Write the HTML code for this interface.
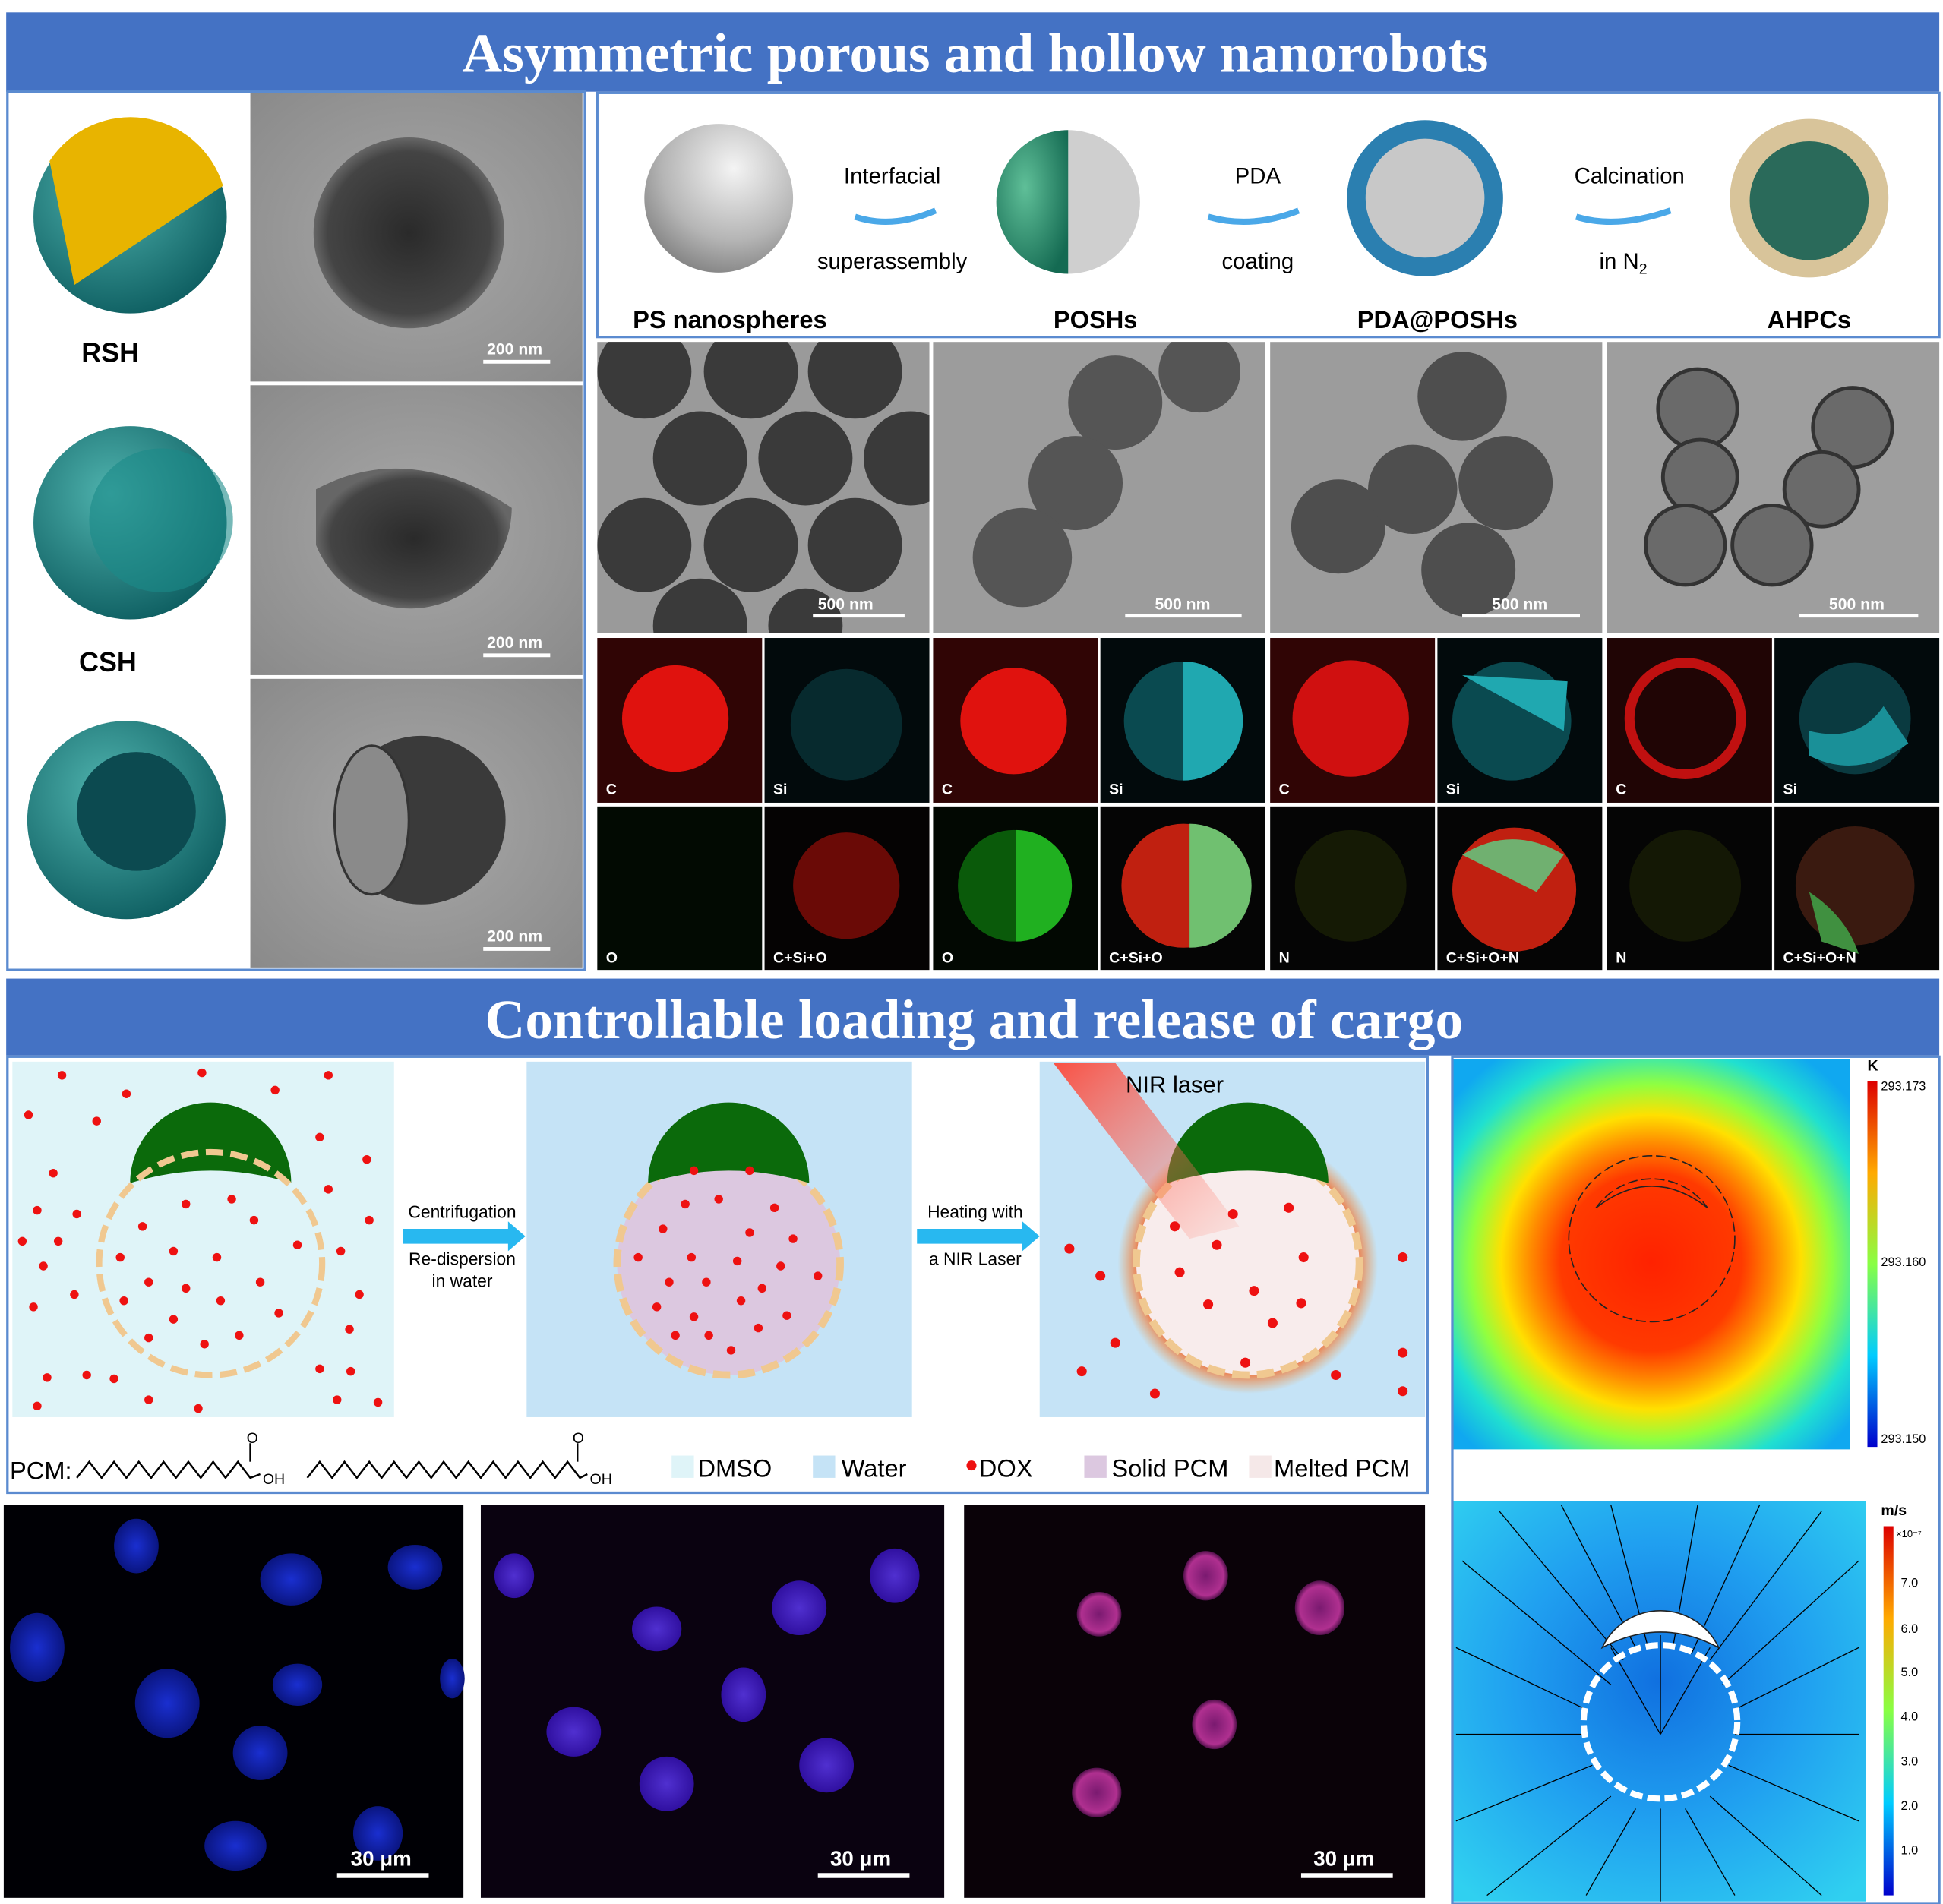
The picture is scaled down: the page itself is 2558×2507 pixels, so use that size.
<!DOCTYPE html>
<html><head><meta charset="utf-8"><style>
html,body{margin:0;padding:0;background:#fff;}
svg{display:block;}
</style></head><body>
<svg width="2558" height="2507" viewBox="0 0 1568 1537" preserveAspectRatio="none" xmlns="http://www.w3.org/2000/svg" font-family="Liberation Sans, sans-serif">
<defs>
<clipPath id="c1"><rect x="482" y="276" width="268" height="235"/></clipPath>
<clipPath id="c2"><rect x="753" y="276" width="1000" height="235"/></clipPath>
<radialGradient id="ps" cx="0.6" cy="0.3" r="0.8"><stop offset="0" stop-color="#f4f4f4"/><stop offset="0.6" stop-color="#b5b5b5"/><stop offset="1" stop-color="#777"/></radialGradient>
<radialGradient id="grn" cx="0.4" cy="0.4" r="0.7"><stop offset="0" stop-color="#5fbf98"/><stop offset="1" stop-color="#146a52"/></radialGradient>
<radialGradient id="teal" cx="0.4" cy="0.35" r="0.7"><stop offset="0" stop-color="#4fb3ae"/><stop offset="1" stop-color="#0d5d60"/></radialGradient>
<radialGradient id="tem" cx="0.5" cy="0.5" r="0.7"><stop offset="0" stop-color="#a8a8a8"/><stop offset="1" stop-color="#8a8a8a"/></radialGradient>
<radialGradient id="dark" cx="0.5" cy="0.5" r="0.5"><stop offset="0" stop-color="#2a2a2a"/><stop offset="0.85" stop-color="#444"/><stop offset="1" stop-color="#666"/></radialGradient>
<radialGradient id="heat" cx="0.5" cy="0.52" r="0.65"><stop offset="0" stop-color="#ff2200"/><stop offset="0.35" stop-color="#ff3a00"/><stop offset="0.47" stop-color="#ff8c00"/><stop offset="0.58" stop-color="#ffe000"/><stop offset="0.7" stop-color="#90ff40"/><stop offset="0.85" stop-color="#20e0d0"/><stop offset="1" stop-color="#10a8f0"/></radialGradient>
<linearGradient id="cbar" x1="0" y1="0" x2="0" y2="1"><stop offset="0" stop-color="#d00"/><stop offset="0.25" stop-color="#fa0"/><stop offset="0.5" stop-color="#8f4"/><stop offset="0.75" stop-color="#0cf"/><stop offset="1" stop-color="#00c"/></linearGradient>
<radialGradient id="flow" cx="0.5" cy="0.45" r="0.7"><stop offset="0" stop-color="#1070e0"/><stop offset="0.5" stop-color="#20a0f0"/><stop offset="1" stop-color="#30d0f0"/></radialGradient>
<radialGradient id="glow" cx="0.5" cy="0.5" r="0.5"><stop offset="0.8" stop-color="#ff4000" stop-opacity="0.9"/><stop offset="1" stop-color="#ff8000" stop-opacity="0"/></radialGradient>
<linearGradient id="laser" x1="0" y1="0" x2="1" y2="1"><stop offset="0" stop-color="#ff4030" stop-opacity="0.9"/><stop offset="1" stop-color="#ff8070" stop-opacity="0.1"/></linearGradient>
<radialGradient id="nuc" cx="0.5" cy="0.5" r="0.5"><stop offset="0" stop-color="#1a2fd0"/><stop offset="1" stop-color="#0a1580"/></radialGradient>
<radialGradient id="nucp" cx="0.5" cy="0.5" r="0.5"><stop offset="0" stop-color="#5030d0"/><stop offset="1" stop-color="#3010a0"/></radialGradient>
<radialGradient id="nucm" cx="0.5" cy="0.5" r="0.5"><stop offset="0" stop-color="#7a1a70"/><stop offset="0.8" stop-color="#b03090"/><stop offset="1" stop-color="#50104a"/></radialGradient>
</defs>
<rect width="1568" height="1537" fill="#fff"/>
<!-- Banner 1 -->
<rect x="5" y="10" width="1560" height="64" fill="#4472C4"/>
<text x="787" y="58" text-anchor="middle" font-family="Liberation Serif, serif" font-weight="bold" font-size="45" fill="#fff">Asymmetric porous and hollow nanorobots</text>
<!-- Left panel -->
<rect x="6" y="74" width="466" height="709" fill="#fff" stroke="#5b8bd0" stroke-width="2"/>
<g>
<circle cx="105" cy="175" r="78" fill="url(#teal)"/><path d="M40 130 A78 78 0 0 1 180 150 L60 230 Z" fill="#e8b400"/>
<text x="89" y="292" text-anchor="middle" font-weight="bold" font-size="22">RSH</text>
<circle cx="105" cy="422" r="78" fill="url(#teal)"/><circle cx="130" cy="420" r="58" fill="#1a8a88" opacity="0.6"/>
<text x="87" y="542" text-anchor="middle" font-weight="bold" font-size="22">CSH</text>
<circle cx="102" cy="662" r="80" fill="url(#teal)"/><circle cx="110" cy="655" r="48" fill="#0c4a50"/>
</g>
<rect x="202" y="75" width="268" height="233" fill="url(#tem)"/>
<circle cx="330" cy="188" r="77" fill="url(#dark)"/>
<rect x="202" y="311" width="268" height="234" fill="url(#tem)"/>
<path d="M255 395 Q330 355 413 410 A82 82 0 0 1 255 440 Z" fill="url(#dark)"/>
<rect x="202" y="548" width="268" height="233" fill="url(#tem)"/>
<circle cx="340" cy="662" r="68" fill="#3a3a3a"/><ellipse cx="300" cy="662" rx="30" ry="60" fill="#8a8a8a" stroke="#333" stroke-width="2"/>
<g fill="#fff" font-size="13" font-weight="bold"><text x="393" y="286">200 nm</text><text x="393" y="523">200 nm</text><text x="393" y="760">200 nm</text></g>
<g stroke="#fff" stroke-width="3"><line x1="390" y1="292" x2="444" y2="292"/><line x1="390" y1="529" x2="444" y2="529"/><line x1="390" y1="766" x2="444" y2="766"/></g>
<!-- Scheme top -->
<rect x="482" y="75" width="1083" height="197" fill="#fff" stroke="#5b8bd0" stroke-width="2"/>
<circle cx="580" cy="160" r="60" fill="url(#ps)"/>
<circle cx="862" cy="163" r="58" fill="#cfcfcf"/><path d="M862 105 A58 58 0 0 0 862 221 Z" fill="url(#grn)"/>
<circle cx="1150" cy="160" r="63" fill="#2b7fb0"/><circle cx="1150" cy="160" r="48" fill="#c8c8c8"/>
<circle cx="1460" cy="160" r="64" fill="#d8c49a"/><circle cx="1460" cy="162" r="48" fill="#2a6a5a"/>
<g font-size="18" text-anchor="middle"><text x="720" y="148">Interfacial</text><text x="720" y="217">superassembly</text><text x="1015" y="148">PDA</text><text x="1015" y="217">coating</text><text x="1315" y="148">Calcination</text><text x="1310" y="217">in N<tspan font-size="12" dy="4">2</tspan></text></g>
<g stroke="#4aa8e8" stroke-width="5" fill="none"><path d="M690 175 Q720 185 755 170"/><path d="M975 175 Q1010 185 1048 170"/><path d="M1272 175 Q1305 185 1348 170"/></g>
<g font-size="20" font-weight="bold" text-anchor="middle"><text x="589" y="265">PS nanospheres</text><text x="884" y="265">POSHs</text><text x="1160" y="265">PDA@POSHs</text><text x="1460" y="265">AHPCs</text></g>
<!-- TEM row -->
<rect x="482" y="276" width="268" height="235" fill="#9a9a9a"/>
<g fill="#3a3a3a" clip-path="url(#c1)"><circle cx="520" cy="300" r="38"/><circle cx="606" cy="300" r="38"/><circle cx="690" cy="300" r="38"/><circle cx="565" cy="370" r="38"/><circle cx="650" cy="370" r="38"/><circle cx="735" cy="370" r="38"/><circle cx="520" cy="440" r="38"/><circle cx="606" cy="440" r="38"/><circle cx="690" cy="440" r="38"/><circle cx="565" cy="505" r="38"/><circle cx="650" cy="505" r="30"/></g>
<rect x="753" y="276" width="268" height="235" fill="#9c9c9c"/>
<g fill="#555" clip-path="url(#c2)"><circle cx="968" cy="300" r="33"/><circle cx="900" cy="325" r="38"/><circle cx="868" cy="390" r="38"/><circle cx="825" cy="450" r="40"/></g>
<rect x="1025" y="276" width="268" height="235" fill="#9c9c9c"/>
<g fill="#4e4e4e"><circle cx="1180" cy="320" r="36"/><circle cx="1080" cy="425" r="38"/><circle cx="1140" cy="395" r="36"/><circle cx="1215" cy="390" r="38"/><circle cx="1185" cy="460" r="38"/></g>
<rect x="1297" y="276" width="268" height="235" fill="#9e9e9e"/>
<g fill="#6a6a6a" stroke="#333" stroke-width="3"><circle cx="1370" cy="330" r="32"/><circle cx="1495" cy="345" r="32"/><circle cx="1372" cy="385" r="30"/><circle cx="1470" cy="395" r="30"/><circle cx="1360" cy="440" r="32"/><circle cx="1430" cy="440" r="32"/></g>
<g fill="#fff" font-size="13" font-weight="bold"><text x="660" y="492">500 nm</text><text x="932" y="492">500 nm</text><text x="1204" y="492">500 nm</text><text x="1476" y="492">500 nm</text></g>
<g stroke="#fff" stroke-width="3"><line x1="656" y1="497" x2="730" y2="497"/><line x1="908" y1="497" x2="1002" y2="497"/><line x1="1180" y1="497" x2="1275" y2="497"/><line x1="1452" y1="497" x2="1548" y2="497"/></g>
<!-- EDS maps -->
<g>
<rect x="482" y="515" width="1083" height="268" fill="#fff"/>
<rect x="482" y="515" width="133" height="133" fill="#300505"/><circle cx="545" cy="580" r="43" fill="#e0120e"/>
<rect x="617" y="515" width="133" height="133" fill="#020a0c"/><circle cx="683" cy="585" r="45" fill="#072a2e"/>
<rect x="753" y="515" width="133" height="133" fill="#300505"/><circle cx="818" cy="582" r="43" fill="#e0120e"/>
<rect x="888" y="515" width="133" height="133" fill="#020a0c"/><circle cx="955" cy="582" r="48" fill="#0a4a50"/><path d="M955 534 A48 48 0 0 1 955 630 Z" fill="#20a8b0"/>
<rect x="1025" y="515" width="133" height="133" fill="#300505"/><circle cx="1090" cy="580" r="47" fill="#d01010"/>
<rect x="1160" y="515" width="133" height="133" fill="#020a0c"/><circle cx="1220" cy="582" r="48" fill="#0a4a50"/><path d="M1180 545 L1265 550 L1262 590 Z" fill="#20a8b0"/>
<rect x="1297" y="515" width="133" height="133" fill="#200505"/><circle cx="1360" cy="580" r="45" fill="none" stroke="#c01010" stroke-width="8"/>
<rect x="1432" y="515" width="133" height="133" fill="#020a0c"/><circle cx="1497" cy="580" r="45" fill="#0a3a40"/><path d="M1460 590 Q1500 600 1520 570 L1540 600 Q1500 630 1460 610 Z" fill="#1a9098"/>
<rect x="482" y="651" width="133" height="132" fill="#020a02"/>
<rect x="617" y="651" width="133" height="132" fill="#050303"/><circle cx="683" cy="715" r="43" fill="#6a0a06"/>
<rect x="753" y="651" width="133" height="132" fill="#020802"/><circle cx="818" cy="715" r="45" fill="#0a5a0a"/><path d="M820 670 A45 45 0 0 1 820 760 Z" fill="#20b020"/>
<rect x="888" y="651" width="133" height="132" fill="#050505"/><circle cx="955" cy="715" r="50" fill="#c02010"/><path d="M960 665 A50 50 0 0 1 960 765 Z" fill="#70c070"/>
<rect x="1025" y="651" width="133" height="132" fill="#050505"/><circle cx="1090" cy="715" r="45" fill="#151a05"/>
<rect x="1160" y="651" width="133" height="132" fill="#050505"/><circle cx="1222" cy="718" r="50" fill="#c02010"/><path d="M1180 690 Q1220 665 1262 690 L1240 720 Z" fill="#70b070"/>
<rect x="1297" y="651" width="133" height="132" fill="#050505"/><circle cx="1360" cy="715" r="45" fill="#141805"/>
<rect x="1432" y="651" width="133" height="132" fill="#050505"/><circle cx="1497" cy="715" r="48" fill="#3a1a10"/><path d="M1460 720 Q1490 740 1500 770 L1470 760 Z" fill="#409040"/>
<g fill="#fff" font-size="12" font-weight="bold"><text x="489" y="641">C</text><text x="624" y="641">Si</text><text x="760" y="641">C</text><text x="895" y="641">Si</text><text x="1032" y="641">C</text><text x="1167" y="641">Si</text><text x="1304" y="641">C</text><text x="1439" y="641">Si</text>
<text x="489" y="777">O</text><text x="624" y="777">C+Si+O</text><text x="760" y="777">O</text><text x="895" y="777">C+Si+O</text><text x="1032" y="777">N</text><text x="1167" y="777">C+Si+O+N</text><text x="1304" y="777">N</text><text x="1439" y="777">C+Si+O+N</text></g>
</g>
<!-- Banner 2 -->
<rect x="5" y="790" width="1560" height="62" fill="#4472C4"/>
<text x="786" y="838" text-anchor="middle" font-family="Liberation Serif, serif" font-weight="bold" font-size="45" fill="#fff">Controllable loading and release of cargo</text>
<!-- Bottom left scheme -->
<rect x="6" y="853" width="1146" height="352" fill="#fff" stroke="#5b8bd0" stroke-width="2"/>
<rect x="10" y="857" width="308" height="287" fill="#dff4f8"/>
<rect x="425" y="857" width="311" height="287" fill="#c5e3f6"/>
<rect x="839" y="857" width="311" height="287" fill="#c5e3f6"/>
<path d="M105 955 A65 65 0 0 1 235 955 Q170 935 105 955 Z" fill="#0b6a0b"/>
<circle cx="170" cy="1020" r="90" fill="none" stroke="#f0c890" stroke-width="5" stroke-dasharray="14 6"/>
<circle cx="588" cy="1020" r="90" fill="#dcc8e0" stroke="#f0c890" stroke-width="6" stroke-dasharray="14 6"/>
<path d="M523 955 A65 65 0 0 1 653 955 Q588 935 523 955 Z" fill="#0b6a0b"/>
<circle cx="1007" cy="1020" r="105" fill="url(#glow)"/>
<circle cx="1007" cy="1020" r="90" fill="#f8ecec" stroke="#f0c890" stroke-width="6" stroke-dasharray="14 6"/>
<path d="M942 955 A65 65 0 0 1 1072 955 Q1007 935 942 955 Z" fill="#0b6a0b"/>
<polygon points="850,858 900,858 1000,990 960,1000" fill="url(#laser)"/>
<g fill="#ee1111">
<circle cx="50" cy="868" r="3.5"/><circle cx="102" cy="883" r="3.5"/><circle cx="163" cy="866" r="3.5"/><circle cx="222" cy="880" r="3.5"/><circle cx="265" cy="868" r="3.5"/><circle cx="23" cy="900" r="3.5"/><circle cx="78" cy="905" r="3.5"/><circle cx="258" cy="918" r="3.5"/><circle cx="43" cy="947" r="3.5"/><circle cx="296" cy="936" r="3.5"/><circle cx="30" cy="977" r="3.5"/><circle cx="62" cy="980" r="3.5"/><circle cx="265" cy="960" r="3.5"/><circle cx="298" cy="985" r="3.5"/><circle cx="18" cy="1002" r="3.5"/><circle cx="47" cy="1002" r="3.5"/><circle cx="35" cy="1022" r="3.5"/><circle cx="275" cy="1010" r="3.5"/><circle cx="60" cy="1045" r="3.5"/><circle cx="290" cy="1045" r="3.5"/><circle cx="27" cy="1055" r="3.5"/><circle cx="282" cy="1073" r="3.5"/><circle cx="38" cy="1112" r="3.5"/><circle cx="70" cy="1110" r="3.5"/><circle cx="92" cy="1113" r="3.5"/><circle cx="258" cy="1105" r="3.5"/><circle cx="283" cy="1107" r="3.5"/><circle cx="30" cy="1135" r="3.5"/><circle cx="120" cy="1130" r="3.5"/><circle cx="160" cy="1137" r="3.5"/><circle cx="272" cy="1130" r="3.5"/><circle cx="305" cy="1132" r="3.5"/>
<circle cx="150" cy="972" r="3.5"/><circle cx="187" cy="968" r="3.5"/><circle cx="115" cy="990" r="3.5"/><circle cx="205" cy="985" r="3.5"/><circle cx="97" cy="1015" r="3.5"/><circle cx="140" cy="1010" r="3.5"/><circle cx="175" cy="1015" r="3.5"/><circle cx="240" cy="1005" r="3.5"/><circle cx="120" cy="1035" r="3.5"/><circle cx="150" cy="1040" r="3.5"/><circle cx="210" cy="1035" r="3.5"/><circle cx="100" cy="1050" r="3.5"/><circle cx="178" cy="1050" r="3.5"/><circle cx="140" cy="1065" r="3.5"/><circle cx="225" cy="1060" r="3.5"/><circle cx="120" cy="1080" r="3.5"/><circle cx="165" cy="1085" r="3.5"/><circle cx="193" cy="1078" r="3.5"/>
<circle cx="560" cy="945" r="3.5"/><circle cx="605" cy="945" r="3.5"/><circle cx="553" cy="972" r="3.5"/><circle cx="580" cy="968" r="3.5"/><circle cx="625" cy="975" r="3.5"/><circle cx="535" cy="992" r="3.5"/><circle cx="605" cy="995" r="3.5"/><circle cx="640" cy="1000" r="3.5"/><circle cx="515" cy="1015" r="3.5"/><circle cx="558" cy="1015" r="3.5"/><circle cx="595" cy="1018" r="3.5"/><circle cx="630" cy="1022" r="3.5"/><circle cx="540" cy="1035" r="3.5"/><circle cx="570" cy="1035" r="3.5"/><circle cx="615" cy="1040" r="3.5"/><circle cx="660" cy="1030" r="3.5"/><circle cx="530" cy="1055" r="3.5"/><circle cx="598" cy="1050" r="3.5"/><circle cx="560" cy="1063" r="3.5"/><circle cx="635" cy="1062" r="3.5"/><circle cx="545" cy="1078" r="3.5"/><circle cx="572" cy="1078" r="3.5"/><circle cx="612" cy="1072" r="3.5"/><circle cx="590" cy="1090" r="3.5"/>
<circle cx="995" cy="980" r="4"/><circle cx="1040" cy="975" r="4"/><circle cx="948" cy="990" r="4"/><circle cx="982" cy="1005" r="4"/><circle cx="952" cy="1027" r="4"/><circle cx="1012" cy="1042" r="4"/><circle cx="1052" cy="1015" r="4"/><circle cx="975" cy="1053" r="4"/><circle cx="1050" cy="1052" r="4"/><circle cx="1027" cy="1068" r="4"/><circle cx="1005" cy="1100" r="4"/><circle cx="863" cy="1008" r="4"/><circle cx="888" cy="1030" r="4"/><circle cx="900" cy="1084" r="4"/><circle cx="873" cy="1107" r="4"/><circle cx="932" cy="1125" r="4"/><circle cx="1078" cy="1110" r="4"/><circle cx="1132" cy="1015" r="4"/><circle cx="1132" cy="1092" r="4"/><circle cx="1132" cy="1123" r="4"/>
</g>
<g font-size="14" text-anchor="middle"><text x="373" y="983">Centrifugation</text><text x="373" y="1021">Re-dispersion</text><text x="373" y="1039">in water</text><text x="787" y="983">Heating with</text><text x="787" y="1021">a NIR Laser</text></g>
<text x="948" y="882" text-anchor="middle" font-size="19">NIR laser</text>
<polygon points="325,992 410,992 410,986 424,998 410,1010 410,1004 325,1004" fill="#28b8f0"/>
<polygon points="740,992 825,992 825,986 839,998 825,1010 825,1004 740,1004" fill="#28b8f0"/>
<!-- legend -->
<text x="8" y="1194" font-size="20">PCM:</text>
<polyline points="62,1193 72,1180 82,1193 92,1180 102,1193 112,1180 122,1193 132,1180 142,1193 152,1180 162,1193 172,1180 182,1193 192,1180 202,1193 210,1190" fill="none" stroke="#000" stroke-width="1.5"/>
<line x1="202" y1="1180" x2="202" y2="1165" stroke="#000" stroke-width="1.5"/><text x="199" y="1165" font-size="12">O</text><text x="212" y="1198" font-size="12">OH</text>
<polyline points="248,1193 258,1180 268,1193 278,1180 288,1193 298,1180 308,1193 318,1180 328,1193 338,1180 348,1193 358,1180 368,1193 378,1180 388,1193 398,1180 408,1193 418,1180 428,1193 438,1180 448,1193 458,1180 468,1193 474,1190" fill="none" stroke="#000" stroke-width="1.5"/>
<line x1="466" y1="1180" x2="466" y2="1165" stroke="#000" stroke-width="1.5"/><text x="462" y="1165" font-size="12">O</text><text x="476" y="1198" font-size="12">OH</text>
<rect x="542" y="1175" width="18" height="18" fill="#dff4f8"/><text x="563" y="1192" font-size="20">DMSO</text>
<rect x="656" y="1175" width="18" height="18" fill="#c5e3f6"/><text x="679" y="1192" font-size="20">Water</text>
<circle cx="784" cy="1183" r="4" fill="#e11"/><text x="790" y="1192" font-size="20">DOX</text>
<rect x="875" y="1175" width="18" height="18" fill="#dcc8e0"/><text x="897" y="1192" font-size="20">Solid PCM</text>
<rect x="1008" y="1175" width="18" height="18" fill="#f5e8e8"/><text x="1028" y="1192" font-size="20">Melted PCM</text>
<!-- microscope -->
<rect x="3" y="1215" width="371" height="317" fill="#000005"/>
<g fill="url(#nuc)"><ellipse cx="110" cy="1248" rx="18" ry="22"/><ellipse cx="235" cy="1275" rx="25" ry="21"/><ellipse cx="335" cy="1265" rx="22" ry="18"/><ellipse cx="30" cy="1330" rx="22" ry="28"/><ellipse cx="135" cy="1375" rx="26" ry="28"/><ellipse cx="240" cy="1360" rx="20" ry="17"/><ellipse cx="210" cy="1415" rx="22" ry="22"/><ellipse cx="365" cy="1355" rx="10" ry="16"/><ellipse cx="190" cy="1490" rx="25" ry="20"/><ellipse cx="305" cy="1480" rx="20" ry="22"/></g>
<rect x="388" y="1215" width="374" height="317" fill="#0a0210"/>
<g fill="url(#nucp)"><ellipse cx="415" cy="1272" rx="16" ry="18"/><ellipse cx="530" cy="1315" rx="20" ry="18"/><ellipse cx="645" cy="1298" rx="22" ry="22"/><ellipse cx="722" cy="1272" rx="20" ry="22"/><ellipse cx="600" cy="1368" rx="18" ry="22"/><ellipse cx="463" cy="1398" rx="22" ry="20"/><ellipse cx="538" cy="1440" rx="22" ry="22"/><ellipse cx="667" cy="1425" rx="22" ry="22"/></g>
<rect x="778" y="1215" width="372" height="317" fill="#0a0208"/>
<g fill="url(#nucm)"><ellipse cx="887" cy="1303" rx="18" ry="18"/><ellipse cx="973" cy="1272" rx="18" ry="20"/><ellipse cx="1065" cy="1298" rx="20" ry="22"/><ellipse cx="980" cy="1392" rx="18" ry="20"/><ellipse cx="885" cy="1447" rx="20" ry="20"/></g>
<g fill="#fff" font-size="17" font-weight="bold"><text x="283" y="1506">30 μm</text><text x="670" y="1506">30 μm</text><text x="1060" y="1506">30 μm</text></g>
<g stroke="#fff" stroke-width="4"><line x1="272" y1="1514" x2="346" y2="1514"/><line x1="660" y1="1514" x2="734" y2="1514"/><line x1="1050" y1="1514" x2="1124" y2="1514"/></g>
<!-- heat map -->
<rect x="1172" y="855" width="321" height="315" fill="url(#heat)"/>
<g fill="none" stroke="#222" stroke-width="1"><circle cx="1333" cy="1000" r="67" stroke-dasharray="8 3"/><path d="M1288 975 Q1333 940 1378 975"/><path d="M1288 975 A55 55 0 0 1 1378 975" stroke-dasharray="8 3"/></g>
<rect x="1507" y="873" width="8" height="295" fill="url(#cbar)"/>
<g font-size="10"><text x="1507" y="864" font-weight="bold" font-size="12">K</text><text x="1518" y="880">293.173</text><text x="1518" y="1022">293.160</text><text x="1518" y="1165">293.150</text></g>
<!-- flow -->
<rect x="1172" y="1212" width="334" height="323" fill="url(#flow)"/>
<g stroke="#000" stroke-width="0.8" fill="none">
<path d="M1180 1260 L1300 1360"/><path d="M1210 1220 L1310 1340"/><path d="M1260 1215 L1320 1330"/><path d="M1300 1215 L1330 1330"/><path d="M1370 1215 L1350 1330"/><path d="M1420 1215 L1365 1335"/><path d="M1470 1220 L1380 1340"/><path d="M1500 1260 L1390 1360"/>
<path d="M1175 1330 L1280 1380"/><path d="M1175 1400 L1280 1400"/><path d="M1175 1470 L1285 1425"/><path d="M1500 1330 L1400 1380"/><path d="M1500 1400 L1400 1400"/><path d="M1500 1470 L1395 1425"/>
<path d="M1200 1530 L1300 1450"/><path d="M1280 1530 L1320 1460"/><path d="M1340 1535 L1340 1460"/><path d="M1400 1530 L1360 1460"/><path d="M1470 1530 L1380 1450"/>
<path d="M1300 1330 L1340 1400"/><path d="M1380 1330 L1340 1400"/><path d="M1340 1320 L1340 1400"/></g>
<circle cx="1340" cy="1390" r="62" fill="none" stroke="#fff" stroke-width="5" stroke-dasharray="10 4"/>
<path d="M1293 1330 A52 52 0 0 1 1387 1330 Q1340 1305 1293 1330 Z" fill="#fff" stroke="#222"/>
<rect x="1520" y="1232" width="8" height="298" fill="url(#cbar)"/>
<g font-size="10"><text x="1518" y="1223" font-weight="bold" font-size="12">m/s</text><text x="1530" y="1241" font-size="8">×10⁻⁷</text><text x="1534" y="1281">7.0</text><text x="1534" y="1318">6.0</text><text x="1534" y="1353">5.0</text><text x="1534" y="1389">4.0</text><text x="1534" y="1425">3.0</text><text x="1534" y="1461">2.0</text><text x="1534" y="1497">1.0</text></g>
<rect x="1172" y="853" width="393" height="684" fill="none" stroke="#5b8bd0" stroke-width="2"/>
</svg>
</body></html>
